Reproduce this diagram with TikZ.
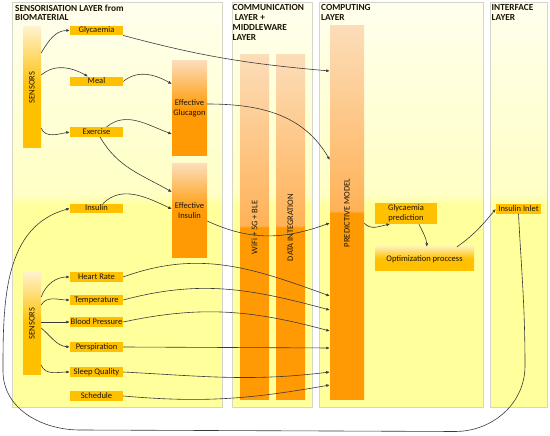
\documentclass[tikz,border=0pt]{standalone}
\usepackage{fontspec}
\setmainfont{Carlito}[BoldFont={Carlito Bold}]
\usepackage{graphicx}
\usetikzlibrary{arrows.meta}
\definecolor{txtcol}{HTML}{1C1508}
\definecolor{linkcol}{HTML}{3A3A3A}
\definecolor{goldcol}{HTML}{FFC000}
\definecolor{palegold}{HTML}{FFF1CC}
\definecolor{optpale}{HTML}{FFEDA8}
\definecolor{barpale}{HTML}{FCDDB9}
\definecolor{barmid}{HTML}{FFB257}
\definecolor{bardeep}{HTML}{FF9A05}
\definecolor{paneltop}{HTML}{FFFFEE}
\definecolor{panelmid}{HTML}{FFFFC4}
\definecolor{panellow}{HTML}{FFFF9C}
\definecolor{panelline}{HTML}{D6D6C8}
\pgfdeclareverticalshading{layershade}{100bp}{color(0bp)=(panellow); color(49.9bp)=(panellow); color(51.2bp)=(panelmid); color(75bp)=(paneltop); color(100bp)=(paneltop)}
\pgfdeclareverticalshading{barshade}{100bp}{color(0bp)=(bardeep); color(50bp)=(bardeep); color(50.3bp)=(barmid); color(75bp)=(barpale); color(100bp)=(barpale)}
\tikzstyle{every node}=[font=\fontsize{8.5}{10}\selectfont, text=txtcol]
\tikzstyle{layer}=[shading=layershade, draw=panelline, line width=0.6pt]
\tikzstyle{layertitle}=[anchor=north west, inner sep=0pt, align=left, font=\fontsize{9.3}{9.8}\selectfont\bfseries]
\tikzstyle{sensorbox}=[fill=goldcol, minimum width=53pt, minimum height=9.5pt, inner sep=0pt, text height=6pt, text depth=1.8pt]
\tikzstyle{computebox}=[fill=goldcol, inner sep=0pt, align=center]
\tikzstyle{sensorbar}=[top color=palegold, bottom color=goldcol, middle color=goldcol, minimum width=18pt, inner sep=0pt]
\tikzstyle{effectbox}=[top color=barpale, bottom color=bardeep, middle color=bardeep, minimum width=35pt, minimum height=95pt, inner sep=0pt, align=center]
\tikzstyle{layerbar}=[shade, shading=barshade, inner sep=0pt]
\tikzstyle{link}=[draw=linkcol, line width=0.6pt, -{Latex[length=3.5pt,width=3pt]}]
\begin{document}
\begin{tikzpicture}[x=1pt,y=1pt]
%Glucose control layers
	\newcommand\sensx{96.5} %x of the sensor boxes
	\newcommand\effx{189.5} %x of the effective boxes
	\useasboundingbox (0,0) rectangle (550,436);
	%LAYERS
	\shade[layer] (12,29) rectangle (222,434); %% sensorisation
	\shade[layer] (232,29) rectangle (312,434); %% communication
	\shade[layer] (319,29) rectangle (483,434); %% computing
	\shade[layer] (490,29) rectangle (547,434); %% interface
	\node[layertitle] (tsens) at (15,431.5) {SENSORISATION LAYER from\\BIOMATERIAL};
	\node[layertitle] (tcomm) at (232.5,431.5) {COMMUNICATION\\\ LAYER +\\MIDDLEWARE\\LAYER};
	\node[layertitle] (tcomp) at (321,431.5) {COMPUTING\\LAYER};
	\node[layertitle] (tint) at (491.5,431.5) {INTERFACE\\LAYER};
	%SENSORS
	\node[sensorbar, minimum height=121pt] (sensA) at (32,348.5) {\rotatebox{90}{SENSORS}};
	\node[sensorbox] (glyc) at (\sensx,405.5) {Glycaemia};
	\node[sensorbox] (meal) at (\sensx,354.5) {Meal};
	\node[sensorbox] (exer) at (\sensx,304) {Exercise};
	\node[sensorbox] (insu) at (\sensx,227.5) {Insulin};
	\node[effectbox] (effG) at (\effx,327.5) {Effective\\Glucagon};
	\node[effectbox, minimum height=94pt] (effI) at (\effx,225) {Effective\\Insulin};
	\node[sensorbar, minimum height=103pt] (sensB) at (32,112.5) {\rotatebox{90}{SENSORS}};
	\node[sensorbox] (heart) at (\sensx,159) {Heart Rate};
	\node[sensorbox] (temp) at (\sensx,136) {Temperature};
	\node[sensorbox] (blood) at (\sensx,114) {Blood Pressure};
	\node[sensorbox] (persp) at (\sensx,89) {Perspiration};
	\node[sensorbox] (sleep) at (\sensx,64) {Sleep Quality};
	\node[sensorbox] (sched) at (\sensx,40) {Schedule};
	%BARS
	\node[layerbar, minimum width=29pt, minimum height=345pt] (wifi) at (254.5,208.5) {\rotatebox{90}{WiFi + 5G + BLE}};
	\node[layerbar, minimum width=29pt, minimum height=345pt] (dataint) at (290.5,208.5) {\rotatebox{90}{DATA INTEGRATION}};
	\node[layerbar, minimum width=34pt, minimum height=374pt] (pm) at (347,223) {\rotatebox{90}{PREDICTIVE MODEL}};
	\node[computebox, minimum width=62pt, minimum height=21pt] (gpred) at (406,222.5) {Glycaemia\\prediction};
	\node[computebox, top color=optpale, bottom color=goldcol, middle color=goldcol, minimum width=99pt, minimum height=24pt] (opt) at (424.5,177) {Optimization proccess};
	\node[sensorbox, minimum width=45pt] (inlet) at (518.5,227) {Insulin Inlet};
	%LINKS upper sensors
	\draw[link] ([yshift=34.5pt]sensA.east) to[out=60,in=180] (glyc.west);
	\draw[link] ([yshift=12.5pt]sensA.east) to[out=40,in=150] ([xshift=-8.5pt]meal.north);
	\draw[link] ([yshift=-40.5pt]sensA.east) to[out=-70,in=190] (exer.west);
	\draw[link] (meal.east) to[out=40,in=150] ([yshift=24.5pt]effG.west);
	\draw[link] ([xshift=10pt]exer.north) to[out=40,in=160] ([yshift=-25.5pt]effG.west);
	\draw[link] ([xshift=3.5pt]exer.south) to[out=-60,in=150] ([yshift=19pt]effI.west);
	\draw[link] ([xshift=6.5pt]insu.north) to[out=45,in=155] ([yshift=2pt]effI.west);
	%LINKS lower sensors
	\draw[link] ([yshift=26.5pt]sensB.east) to[out=70,in=180] (heart.west);
	\draw[link] ([yshift=18.5pt]sensB.east) to[out=60,in=180] (temp.west);
	\draw[link] ([yshift=1.5pt]sensB.east) -- (blood.west);
	\draw[link] ([yshift=-4.5pt]sensB.east) to[out=-40,in=175] (persp.west);
	\draw[link] ([yshift=-41.5pt]sensB.east) to[out=-70,in=180] (sleep.west);
	%LINKS to the predictive model
	\draw[link] (glyc.south east) to[out=-15,in=175] ([yshift=142pt]pm.west);
	\draw[link] ([yshift=4.5pt]effG.east) to[out=0,in=120] ([yshift=53pt]pm.west);
	\draw[link] ([yshift=-10pt]effI.east) to[out=-25,in=200] ([yshift=-10pt]pm.west);
	\draw[link] (heart.east) to[out=20,in=160] ([yshift=-83pt]pm.west);
	\draw[link] (temp.east) to[out=15,in=165] ([yshift=-97pt]pm.west);
	\draw[link] (blood.east) to[out=12,in=165] ([yshift=-118pt]pm.west);
	\draw[link] (persp.east) -- ([yshift=-135pt]pm.west);
	\draw[link] (sleep.east) to[out=-3,in=187] ([yshift=-159pt]pm.west);
	\draw[link] (sched.east) to[out=-5,in=190] ([yshift=-172pt]pm.west);
	%LINKS computing and interface
	\draw[link] ([yshift=-10pt]pm.east) to[out=-50,in=190] ([xshift=-16pt]gpred.south);
	\draw[link] ([xshift=13pt]gpred.south) to[out=-65,in=95] ([xshift=2.5pt]opt.north);
	\draw[link] ([xshift=32.5pt]opt.north) to[out=35,in=230] (inlet.west);
	%feedback loop from the insulin inlet back to insulin
	\coordinate (loopR) at (525,70); %% right side of the loop
	\coordinate (loopBR) at (455,4.5); %% bottom right
	\coordinate (loopBL) at (80,6); %% bottom left
	\coordinate (loopL) at (3,65); %% left side
	\draw[link] (inlet.south) to[out=-87,in=90] (loopR) to[out=-90,in=0] (loopBR) -- (loopBL) to[out=180,in=-90] (loopL) to[out=90,in=195] (insu.west);
\end{tikzpicture}
\end{document}
